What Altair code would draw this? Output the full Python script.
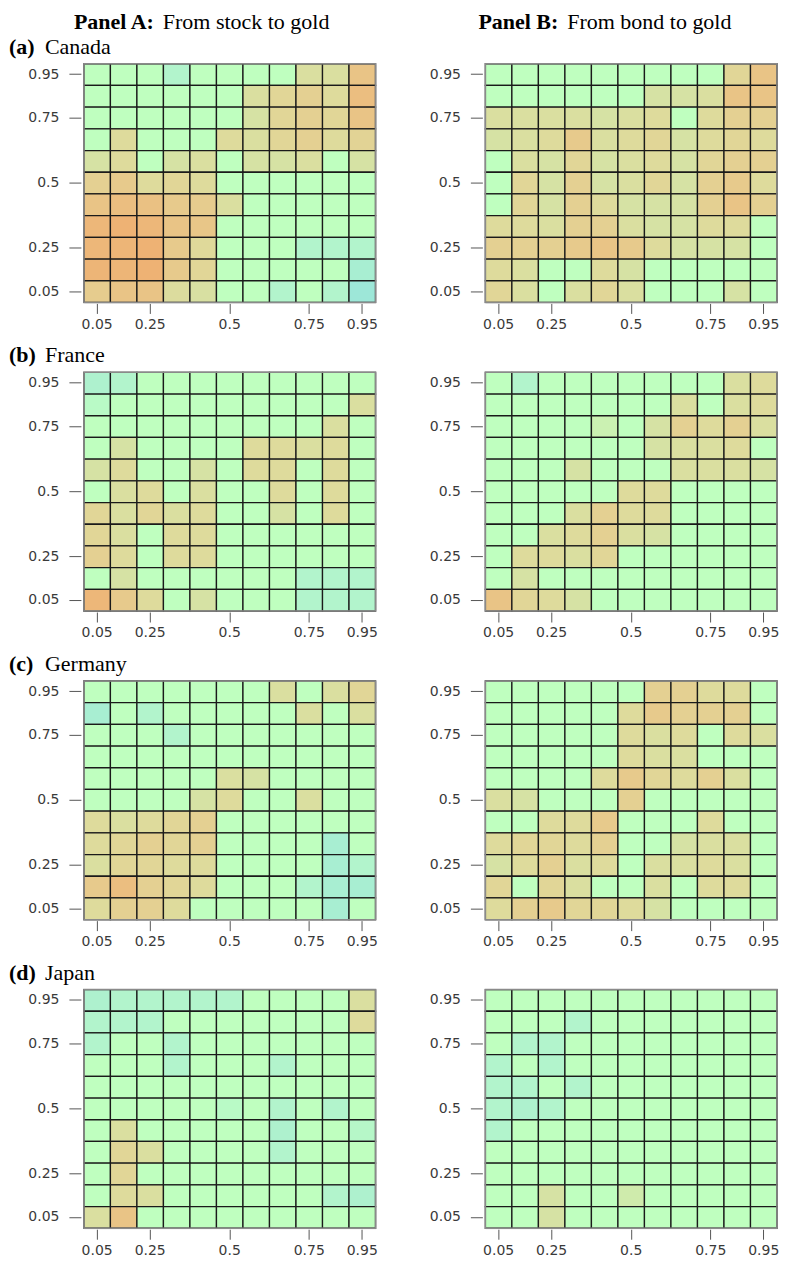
import altair as alt
import pandas as pd

N = 11
TICK_POS = [1, 3, 6, 9, 11]
TICK_LABELS = ["0.05", "0.25", "0.5", "0.75", "0.95"]

PANEL_BOLD = ["Panel A:", "Panel B:"]
PANEL_TEXT = ["From stock to gold", "From bond to gold"]
COUNTRY_TAG = ["(a)", "(b)", "(c)", "(d)"]
COUNTRY_NAME = ["Canada", "France", "Germany", "Japan"]

# cell values, rows listed from the 0.95 quantile (top) to 0.05 (bottom)
CANADA_A = [
    [0, 0, 0, -1, 0, 0, 0, 0, 1.5, 1.5, 4],
    [0, 0, 0, 0, 0, 0, 1.5, 2.5, 3, 2, 4.5],
    [0, 0, 0, 0, 0, 0, 1, 2.5, 3, 2.5, 4],
    [0, 2, 0, 0, 0, 2, 1.5, 2.5, 3, 2, 2.7],
    [1, 2, 0, 1, 1.5, 0, 1, 1, 1.5, 0, 1],
    [3, 3.5, 2, 2.5, 2, 0, 0, 0, 0, 0, 0],
    [4, 4.5, 4.2, 3.5, 3.3, 1.5, 0, 0, 0, 0, 0],
    [5, 5.5, 5, 4, 3.8, 0, 0, 0, 0, 0, 0],
    [5, 5.2, 5.5, 3.5, 2.2, 0, 0, 0, -1, -1, -1],
    [5.2, 5.2, 5.5, 3.5, 2.5, 0, 0, 0, 0, 0, -1.5],
    [3.3, 4, 4, 1.8, 1.3, 0, 0, -1, 0, -1, -2],
]
CANADA_B = [
    [0, 0, 0, 0, 0, 0, 0, 0, 0, 2.5, 4],
    [0, 0, 0, 0, 0, 0, 1, 1, 1.5, 4, 4],
    [1.5, 1.5, 1.5, 1.5, 1, 1.5, 2, 0, 2, 3, 3],
    [1, 1.5, 2, 3.5, 1.5, 2, 2.5, 1, 2, 2.5, 2],
    [0, 1.5, 1, 2.5, 1, 1.5, 2, 1, 2.5, 3, 3],
    [0, 2.5, 1, 3, 1, 1.5, 2.5, 1, 3, 3.5, 2],
    [0, 2.5, 1, 3, 2, 1, 1, 1, 3, 4, 3],
    [2, 2, 1.5, 3, 3, 1.5, 1, 1, 2, 2, 0],
    [3, 3, 3, 3.5, 4, 3.5, 2, 1, 1, 1, 0],
    [2, 1.5, 0, 0, 2, 1, 0, 0, 0, 0, 0],
    [2.5, 1.5, 0, 1.5, 2.5, 1.5, 0, 0, 0, 1, 0],
]
FRANCE_A = [
    [-1.2, -1, 0, 0, 0, 0, 0, 0, 0, 0, 0],
    [-0.5, 0, 0, 0, 0, 0, 0, 0, 0, 0, 1.5],
    [0, 0, 0, 0, 0, 0, 0, 0, 0, 1.5, 0],
    [0, 1, 0, 0, 0, 0, 2, 2, 1.5, 2, 0],
    [1, 2, 0, 0, 1, 0, 2, 2, 0, 2, 0],
    [0, 1.5, 2, 0, 1.5, 0, 0, 2, 0, 2, 0],
    [2.5, 1.5, 2.5, 1.5, 2, 0, 0, 1, 0, 2, 0],
    [2.5, 1.5, 0, 2, 2, 0, 0, 0, 0, 0, 0],
    [3, 2, 0, 2, 2, 0, 0, 0, 0, 0, 0],
    [0, 1, 0, 0, 0, 0, 0, 0, -1, -1, -1],
    [5, 3.5, 2, 0, 1, 0, 0, 0, -1, -1, -1],
]
FRANCE_B = [
    [0, -1, 0, 0, 0, 0, 0, 0, 0, 1.5, 2],
    [0, 0, 0, 0, 0, 0, 0, 1.5, 0, 1.5, 2],
    [0, 0, 0, 0, 0.5, 0, 1, 3, 2, 3, 1.5],
    [0, 0, 0, 0, 0, 0, 1, 1.5, 1.5, 2, 0],
    [0, 0, 0, 1, 0, 0, 0, 1.5, 1.5, 1.5, 1],
    [0, 0, 0, 0, 0, 2, 2, 0, 0, 0, 0],
    [0, 0, 0, 1.5, 3, 2, 2, 0, 0, 0, 0],
    [0, 0, 1.5, 2, 3, 1.5, 1, 0, 0, 0, 0],
    [0, 2, 2, 1.5, 2.5, 0, 0, 0, 0, 0, 0],
    [0, 1, 0, 0, 0, 0, 0, 0, 0, 0, 0],
    [4, 2.5, 2, 1, 0, 0, 0, 0, 0, 0, 0],
]
GERMANY_A = [
    [0, 0, 0, 0, 0, 0, 0, 1.5, 0, 1.5, 2.5],
    [-1.5, 0, -1, 0, 0, 0, 0, 0, 1.5, 0, 1.5],
    [0, 0, 0, -1, 0, 0, 0, 0, 0, 0, 0],
    [0, 0, 0, 0, 0, 0, 0, 0, 0, 0, 0],
    [0, 0, 0, 0, 0, 1.5, 1, 0, 0, 0, 0],
    [0, 0, 0, 0, 1, 2, 0, 0, 1.5, 0, 0],
    [2, 1.5, 2, 2.5, 3, 0, 0, 0, 0, 0, 0],
    [2, 2.5, 3, 2.5, 3, 0, 0, 0, 0, -1.5, 0],
    [1.5, 2.5, 2.5, 2, 2, 0, 0, 0, 0, -1.5, -1],
    [3.5, 4.5, 3, 2.5, 2, 0, 0, 0, -1, -1.5, -1.5],
    [2, 3, 3, 2, 0, 0, 0, 0, 0, -1.5, 0],
]
GERMANY_B = [
    [0, 0, 0, 0, 0, 0, 3, 3, 2, 2, 0],
    [0, 0, 0, 0, 0, 2, 3.5, 3, 3, 3, 0],
    [0, 0, 0, 0, 0, 2, 1.5, 2, 0, 2, 1.5],
    [0, 0, 0, 0, 0, 2, 1.5, 1.5, 0, 0, 0],
    [0, 0, 0, 0, 2, 3.5, 2.5, 2, 3, 1.5, 0],
    [1.5, 1, 0, 0, 0, 3, 0, 0, 0, 0, 0],
    [0, 0, 2, 2, 3.5, 0, 0, 0, 2, 0, 0],
    [2, 2.5, 2.5, 2, 3, 0, 0, 1, 1.5, 1.5, 0],
    [1, 2, 3, 1.5, 2, 0, 1.5, 1.5, 2, 1.5, 0],
    [2.5, 0, 2.5, 1.5, 0, 0, 1.5, 0, 2, 2, 0],
    [2, 3, 3.5, 2.5, 2.5, 2, 1, 0, 0, 0, 0],
]
JAPAN_A = [
    [-1.2, -1, -1, -1, -1, -1, 0, 0, 0, 0, 1.5],
    [-1, -1, -1, 0, 0, 0, 0, 0, 0, 0, 2],
    [-1, 0, 0, -1, 0, 0, 0, 0, 0, 0, 0],
    [0, 0, 0, -1, 0, 0, 0, -1, 0, 0, 0],
    [0, 0, 0, 0, 0, 0, 0, 0, 0, 0, 0],
    [0, 0, 0, 0, 0, -0.5, 0, -1, 0, -1, 0],
    [0, 1.5, 0, 0, 0, 0, 0, -1.2, 0, 0, -0.7],
    [0, 2.5, 1.5, 0, 0, 0, 0, -1, 0, 0, 0],
    [0, 2.5, 0, 0, 0, 0, 0, 0, 0, 0, 0],
    [0, 2, 1.5, 0, 0, 0, 0, 0, 0, -1, -1.2],
    [1.5, 4, 0, 0, 0, 0, 0, 0, 0, 0, 0],
]
JAPAN_B = [
    [0, 0, 0, 0, 0, 0, 0, 0, 0, 0, 0],
    [0, 0, 0, -1, 0, 0, 0, 0, 0, 0, 0],
    [0, -1, -1, 0, 0, 0, 0, 0, 0, 0, 0],
    [-1, 0, -1, 0, 0, 0, 0, 0, 0, 0, 0],
    [-1, -1, 0, -1, 0, 0, 0, 0, 0, 0, 0],
    [-1, -1.2, -1, 0, 0, 0, 0, 0, 0, 0, 0],
    [-1, 0, 0, 0, 0, 0, 0, 0, 0, 0, 0],
    [0, 0, 0, 0, 0, 0, 0, 0, 0, 0, 0],
    [0, 0, 0, 0, 0, 0, 0, 0, 0, 0, 0],
    [0, 0, 1, 0, 0, 0.7, 0, 0, 0, 0, 0],
    [0, 0, 1, 0, 0, 0, 0, 0, 0, 0, 0],
]
GRIDS = [
    [CANADA_A, CANADA_B],
    [FRANCE_A, FRANCE_B],
    [GERMANY_A, GERMANY_B],
    [JAPAN_A, JAPAN_B],
]

COLOR_DOMAIN = [-2, -1, 0, 1, 2, 3, 4, 5, 5.5]
COLOR_RANGE = ["#9de7d8", "#b2f4cc", "#bfffbf", "#d6e2a4", "#dedb9c",
               "#e4d092", "#e9c486", "#edb779", "#eeb274"]

W, H = 292, 239
SERIF = "Liberation Serif"
SANS = "DejaVu Sans"
TITLE_X = [(-10, 79), (-7, 82)]


def label_expr():
    parts = [f"datum.value == {p} ? '{l}'" for p, l in zip(TICK_POS, TICK_LABELS)]
    return " : ".join(parts) + " : ''"


def text_layer(txt, x, y, bold):
    kw = dict(align="left", baseline="alphabetic", font=SERIF, fontSize=22, color="black")
    if bold:
        kw["fontWeight"] = "bold"
    return alt.Chart(pd.DataFrame({"t": [txt]})).mark_text(**kw).encode(
        x=alt.value(x), y=alt.value(y), text="t:N")


def panel(grid, ri, ci):
    recs = []
    for r, line in enumerate(grid):
        for c, v in enumerate(line):
            recs.append({"xi": c + 1, "yi": N - r, "v": v})
    df = pd.DataFrame(recs)
    ax_common = dict(values=TICK_POS, labelExpr=label_expr(), title=None,
                     domain=False, grid=False, labelFont=SANS, labelFontSize=14,
                     labelColor="#3a3a3a", tickColor="#555555", tickWidth=1)
    cells = alt.Chart(df).mark_rect(stroke="#1a1a1a", strokeWidth=1.3).encode(
        x=alt.X("xi:O", scale=alt.Scale(paddingInner=0, paddingOuter=0),
                axis=alt.Axis(offset=1, tickSize=10, labelPadding=4, labelAngle=0,
                              **ax_common)),
        y=alt.Y("yi:O", sort="descending", scale=alt.Scale(paddingInner=0, paddingOuter=0),
                axis=alt.Axis(offset=3, tickSize=12, labelPadding=10, **ax_common)),
        color=alt.Color("v:Q", scale=alt.Scale(domain=COLOR_DOMAIN, range=COLOR_RANGE,
                                               interpolate="rgb", clamp=True),
                        legend=None),
    )
    frame = alt.Chart(pd.DataFrame({"f": [0]})).mark_rect(
        fill="transparent", stroke="#8a8a8a", strokeWidth=1.5
    ).encode(x=alt.value(0), x2=alt.value(W), y=alt.value(0), y2=alt.value(H))
    layers = [cells, frame]
    if ri == 0:
        bx, tx = TITLE_X[ci]
        layers.append(text_layer(PANEL_BOLD[ci], bx, -35, True))
        layers.append(text_layer(PANEL_TEXT[ci], tx, -35, False))
    if ci == 0:
        layers.append(text_layer(COUNTRY_TAG[ri], -75, -10, True))
        layers.append(text_layer(COUNTRY_NAME[ri], -39, -10, False))
    return alt.layer(*layers).properties(width=W, height=H)


panels = []
for ri in range(4):
    for ci in range(2):
        panels.append(panel(GRIDS[ri][ci], ri, ci))

chart = alt.concat(*panels, columns=2, spacing={"row": 70, "column": 110},
                   bounds="flush").properties(
    padding={"left": 0, "top": 1, "right": 0, "bottom": 0}
).configure_view(strokeWidth=0).configure(background="white")

chart.save("out.html", embed_options={"renderer": "svg", "actions": False})
